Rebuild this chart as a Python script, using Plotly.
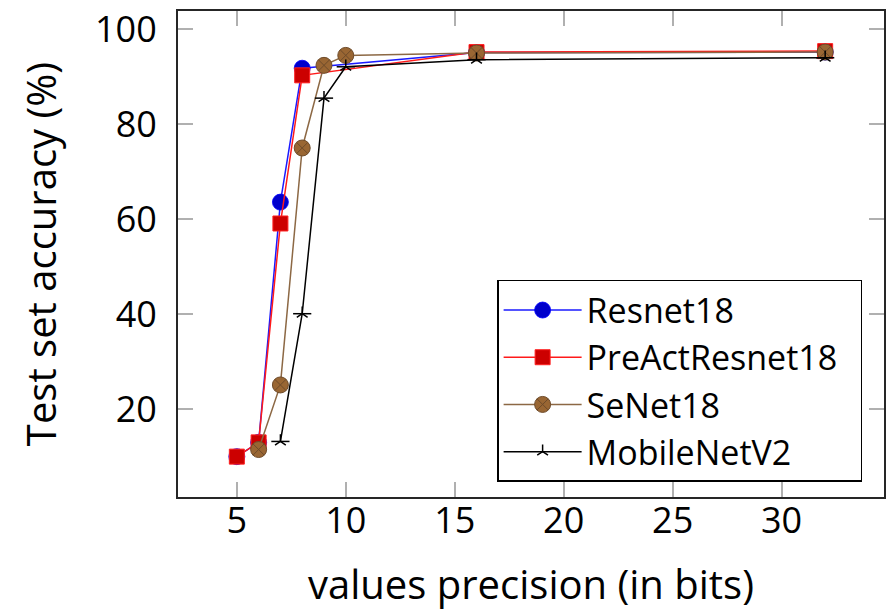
import plotly.graph_objects as go

# Test-set accuracy (%) versus number of bits used to store values
resnet_bits = [5, 6, 7, 8, 16, 32]
resnet_acc = [10.0, 13.0, 63.6, 91.8, 95.1, 95.2]

preact_bits = [5, 6, 7, 8, 16, 32]
preact_acc = [10.0, 13.0, 59.1, 90.3, 95.2, 95.4]

senet_bits = [6, 7, 8, 9, 10, 16, 32]
senet_acc = [11.5, 25.1, 75.0, 92.4, 94.5, 95.0, 95.2]

mobilenet_bits = [7, 8, 9, 10, 16, 32]
mobilenet_acc = [13.2, 40.1, 85.5, 92.1, 93.6, 94.0]

x_ticks = [5, 10, 15, 20, 25, 30]
y_ticks = [20, 40, 60, 80, 100]

FONT = "Open Sans"
PAD = "\u00a0\u00a0"  # keeps some room at the right side of the legend box

fig = go.Figure()

fig.add_trace(go.Scatter(
    x=resnet_bits, y=resnet_acc, name="Resnet18", mode="lines+markers",
    line=dict(color="#1a1aff", width=1.5),
    marker=dict(symbol="circle", size=16, color="#0000cc",
                line=dict(color="#0000ff", width=0.8)),
))
fig.add_trace(go.Scatter(
    x=preact_bits, y=preact_acc, name="PreActResnet18" + PAD, mode="lines+markers",
    line=dict(color="#ff1a1a", width=1.5),
    marker=dict(symbol="square", size=15, color="#cc0000",
                line=dict(color="#ff2020", width=1)),
))
fig.add_trace(go.Scatter(
    x=senet_bits, y=senet_acc, name="SeNet18", mode="lines+markers",
    line=dict(color="#8c6844", width=1.5),
    marker=dict(symbol="circle-x", size=16, color="#996633",
                line=dict(color="#6e4b2a", width=1)),
))
fig.add_trace(go.Scatter(
    x=mobilenet_bits, y=mobilenet_acc, name="MobileNetV2", mode="lines+markers",
    line=dict(color="#000000", width=1.5),
    marker=dict(symbol="y-up-open", size=9, color="#000000",
                line=dict(color="#000000", width=1.5)),
))
# horizontal arms completing the five-pointed star marks
fig.add_trace(go.Scatter(
    x=mobilenet_bits, y=mobilenet_acc, mode="markers", showlegend=False,
    hoverinfo="skip",
    marker=dict(symbol="line-ew-open", size=13, color="#000000",
                line=dict(color="#000000", width=1.5)),
))

axis_common = dict(
    showline=True, linecolor="#262626", linewidth=2, mirror="allticks",
    ticks="inside", ticklen=15, tickwidth=1.5, tickcolor="#b0b0b0",
    showgrid=False, zeroline=False, ticklabeloverflow="allow",
    tickfont=dict(family=FONT, size=36, color="#000000"),
)

fig.update_xaxes(
    range=[2.3, 34.7], tickvals=x_ticks, ticktext=[str(v) for v in x_ticks],
    title=dict(text="values precision (in bits)",
               font=dict(family=FONT, size=40, color="#000000"), standoff=28),
    ticklabelstandoff=-9,
    **axis_common,
)
fig.update_yaxes(
    range=[1.5, 103.85], tickvals=y_ticks, ticktext=[str(v) for v in y_ticks],
    title=dict(text="Test set accuracy (%)",
               font=dict(family=FONT, size=40, color="#000000"), standoff=26),
    ticklabelstandoff=12,
    **axis_common,
)

fig.update_layout(
    width=890, height=611, autosize=False,
    margin=dict(l=178, r=4, t=9, b=114),
    paper_bgcolor="#ffffff", plot_bgcolor="#ffffff",
    font=dict(family=FONT, color="#000000"),
    legend=dict(
        x=0.969, y=0.031, xanchor="right", yanchor="bottom",
        bgcolor="#ffffff", bordercolor="#000000", borderwidth=1.5,
        font=dict(family=FONT, size=34, color="#000000"),
        itemwidth=78, tracegroupgap=0,
    ),
    showlegend=True,
)

fig.write_html("out.html")
